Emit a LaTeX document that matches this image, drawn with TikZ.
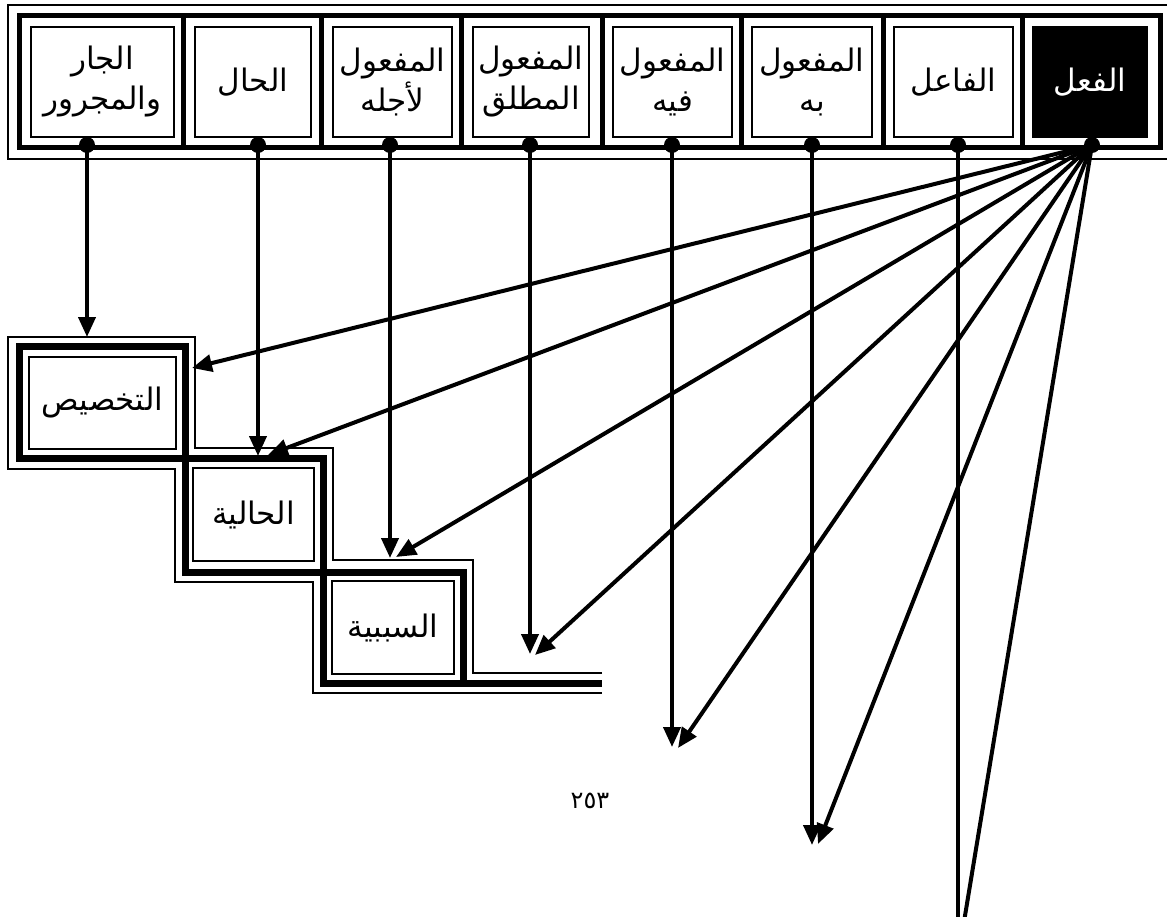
\documentclass[tikz,border=0pt]{standalone}
\usepackage{fontspec}
\usetikzlibrary{arrows.meta}
\newfontfamily\arabicfont[Script=Arabic]{DejaVu Sans}
\TeXXeTstate=1
\newcommand{\artxt}[1]{\beginR #1\endR}
\begin{document}
\begin{tikzpicture}[x=1pt,y=-1pt,
  thinln/.style={line width=2.6pt},
  thickln/.style={line width=5pt},
  stairthick/.style={line width=7pt},
  cellbox/.style={draw,line width=2.2pt,inner sep=0pt,minimum height=110pt,
     align=center,font=\arabicfont\fontsize{31}{40}\selectfont},
  stairbox/.style={draw,line width=2.4pt,inner sep=0pt,
     font=\arabicfont\fontsize{31}{40}\selectfont},
  dotnode/.style={circle,fill=black,inner sep=0pt,minimum size=16pt},
  arr/.style={line width=4pt,-{Triangle[length=20pt,width=17pt]}}]
\useasboundingbox (0,0) rectangle (1167,917);
\clip (0,0) rectangle (1167,917);
% ---- top bar frames
\draw[thinln] (1190,5) -- (8,5) -- (8,159) -- (1190,159);
\draw[thickln] (19,16) rectangle (1160,148);
\foreach \sx in {183,321,461,602,741,883,1022}
  \draw[thickln] (\sx,16) -- (\sx,148);
% ---- cells
\node[cellbox,minimum width=143pt] (c1) at (102.5,82) {\artxt{الجار}\\\artxt{والمجرور}};
\node[cellbox,minimum width=116pt] (c2) at (253,82) {\artxt{الحال}};
\node[cellbox,minimum width=119pt] (c3) at (392.5,82) {\artxt{المفعول}\\\artxt{لأجله}};
\node[cellbox,minimum width=116pt] (c4) at (531,82) {\artxt{المفعول}\\\artxt{المطلق}};
\node[cellbox,minimum width=119pt] (c5) at (672.5,82) {\artxt{المفعول}\\\artxt{فيه}};
\node[cellbox,minimum width=120pt] (c6) at (812,82) {\artxt{المفعول}\\\artxt{به}};
\node[cellbox,minimum width=119pt] (c7) at (953.5,82) {\artxt{الفاعل}};
\node[cellbox,minimum width=114pt,fill=black,text=white] (c8) at (1090,82) {\artxt{الفعل}};
% ---- dots
\node[dotnode] (d1) at (87,145) {};
\node[dotnode] (d2) at (258,145) {};
\node[dotnode] (d3) at (390,145) {};
\node[dotnode] (d4) at (530,145) {};
\node[dotnode] (d5) at (672,145) {};
\node[dotnode] (d6) at (812,145) {};
\node[dotnode] (d7) at (958,145) {};
\node[dotnode] (d8) at (1092,145) {};
% ---- stair structure
\draw[thinln] (602,673) -- (473,673) -- (473,560) -- (333,560) -- (333,448)
  -- (195,448) -- (195,337) -- (8,337) -- (8,469) -- (175,469) -- (175,582)
  -- (313,582) -- (313,693) -- (602,693);
\draw[stairthick] (19,346) rectangle (185,458);
\draw[stairthick] (185,458) rectangle (323,572);
\draw[stairthick] (323,572) rectangle (463,683);
\draw[stairthick] (463,683) -- (602,683);
\node[stairbox,minimum width=147pt,minimum height=92pt] (b1) at (102.5,403) {\artxt{التخصيص}};
\node[stairbox,minimum width=121pt,minimum height=93pt] (b2) at (253.5,514.5) {\artxt{الحالية}};
\node[stairbox,minimum width=122pt,minimum height=93pt] (b3) at (393,627.5) {\artxt{السببية}};
% ---- page number
\node[font=\arabicfont\fontsize{24}{24}\selectfont] (pg) at (590,801) {٢٥٣};
% ---- arrow end points
\coordinate (v1) at (87,337);
\coordinate (v2) at (258,456);
\coordinate (v3) at (390,558);
\coordinate (v4) at (530,654);
\coordinate (v5) at (672,747);
\coordinate (v6) at (812,845);
\coordinate (v7) at (958,945);
\coordinate (s1) at (192,368);
\coordinate (s2) at (268,455);
\coordinate (s3) at (396,557);
\coordinate (s4) at (535,655);
\coordinate (s5) at (678,748);
\coordinate (s6) at (818,844);
\coordinate (s7) at (961,940);
% ---- vertical arrows
\draw[arr] (d1.center) -- (v1);
\draw[arr] (d2.center) -- (v2);
\draw[arr] (d3.center) -- (v3);
\draw[arr] (d4.center) -- (v4);
\draw[arr] (d5.center) -- (v5);
\draw[arr] (d6.center) -- (v6);
\draw[arr] (d7.center) -- (v7);
% ---- fan arrows from the verb
\foreach \t in {s1,s2,s3,s4,s5,s6,s7}
  \draw[arr] (d8.center) -- (\t);
\end{tikzpicture}
\end{document}
